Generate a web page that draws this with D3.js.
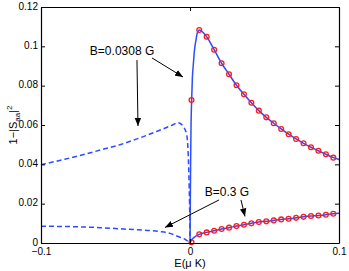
<!DOCTYPE html>
<html>
<head>
<meta charset="utf-8">
<script src="https://cdn.jsdelivr.net/npm/d3@7"></script>
<style>
  body { margin: 0; background: #fff; }
  svg { display: block; font-family: "Liberation Sans", Arial, sans-serif; }
</style>
</head>
<body>
<div id="chart"></div>
<script>
// B=0.0308 G, E>0 (solid)
var solidAE = [0, 0.0002, 0.0004, 0.0007, 0.0011, 0.0016, 0.0022, 0.003, 0.004, 0.005, 0.0062, 0.0112, 0.0162, 0.0212, 0.0262, 0.0312, 0.0362, 0.0412, 0.0462, 0.0512, 0.0562, 0.0612, 0.0662, 0.0712, 0.0762, 0.0812, 0.0862, 0.0912, 0.0962, 0.1];
var solidAV = [0, 0.02, 0.04, 0.06, 0.0727, 0.084, 0.0905, 0.098, 0.1032, 0.107, 0.1083, 0.1049, 0.0983, 0.0914, 0.0858, 0.0802, 0.0756, 0.0713, 0.0673, 0.0639, 0.0609, 0.058, 0.0553, 0.0529, 0.0507, 0.0487, 0.0469, 0.0451, 0.0434, 0.0425];

// B=0.3 G, E>0 (solid)
var solidBE = [0, 0.001, 0.003, 0.0062, 0.0112, 0.0162, 0.0212, 0.0262, 0.0312, 0.0362, 0.0412, 0.0462, 0.0512, 0.0562, 0.0612, 0.0662, 0.0712, 0.0762, 0.0812, 0.0862, 0.0912, 0.0962, 0.1];
var solidBV = [0, 0.0015, 0.003, 0.0044, 0.0054, 0.0062, 0.0071, 0.0078, 0.0086, 0.0093, 0.01, 0.0107, 0.011, 0.0115, 0.012, 0.0123, 0.0128, 0.0133, 0.0137, 0.014, 0.0144, 0.0149, 0.0151];

// E<0 (dashed)
var dashAE = [-0.1, -0.084, -0.06, -0.047, -0.036, -0.0224, -0.012, -0.0079, -0.0045, -0.0022, -0.0012, -0.0006, -0.0002, 0];
var dashAV = [0.0398, 0.0426, 0.0473, 0.05, 0.0528, 0.0567, 0.0599, 0.0612, 0.0592, 0.055, 0.045, 0.03, 0.015, 0];
var dashBE = [-0.1, -0.085, -0.06, -0.042, -0.02, -0.0134, -0.0067, -0.0034, 0];
var dashBV = [0.0085, 0.0084, 0.0078, 0.007, 0.0058, 0.0049, 0.0029, 0.0019, 0];

// circles (second calculation)
var circE = [0.001, 0.0062, 0.0112, 0.0162, 0.0212, 0.0262, 0.0312, 0.0362, 0.0412, 0.0462, 0.0512, 0.0562, 0.0612, 0.0662, 0.0712, 0.0762, 0.0812, 0.0862, 0.0912, 0.0962];
var circAV = [0.0727, 0.1083, 0.1049, 0.0983, 0.0914, 0.0858, 0.0802, 0.0756, 0.0713, 0.0673, 0.0639, 0.0609, 0.058, 0.0553, 0.0529, 0.0507, 0.0487, 0.0469, 0.0451, 0.0434];
var circBV = [0.0004, 0.0044, 0.0054, 0.0062, 0.0071, 0.0078, 0.0086, 0.0093, 0.01, 0.0107, 0.011, 0.0115, 0.012, 0.0123, 0.0128, 0.0133, 0.0137, 0.014, 0.0144, 0.0149];

var xTicks = [-0.1, 0, 0.1];
var yTicks = [0, 0.02, 0.04, 0.06, 0.08, 0.1, 0.12];

// annotations in data coords
var labels = [
  {text: "B=0.0308 G", e: -0.0456, v: 0.0956},
  {text: "B=0.3 G", e: 0.0248, v: 0.0239}
];
var arrows = [
  {e0: -0.0356, v0: 0.093, e1: -0.0349, v1: 0.0595},
  {e0: -0.0255, v0: 0.0941, e1: -0.0047, v1: 0.0844},
  {e0: 0.0195, v0: 0.0219, e1: -0.0168, v1: 0.0079},
  {e0: 0.0342, v0: 0.0219, e1: 0.0369, v1: 0.0135}
];

var width = 349, height = 271;
var margin = {top: 7, right: 10, bottom: 28, left: 41};
var blue = "#2b4cff";

var svg = d3.select("#chart").append("svg")
    .attr("width", width)
    .attr("height", height);

var x = d3.scaleLinear().domain([-0.1, 0.1]).range([margin.left, width - margin.right]);
var y = d3.scaleLinear().domain([0, 0.12]).range([height - margin.bottom, margin.top]);

svg.append("defs").append("marker")
    .attr("id", "head")
    .attr("viewBox", "0 0 10 10")
    .attr("refX", 10).attr("refY", 5)
    .attr("markerWidth", 8).attr("markerHeight", 8)
    .attr("markerUnits", "userSpaceOnUse")
    .attr("orient", "auto")
  .append("path")
    .attr("d", "M0,1 L10,5 L0,9 z")
    .attr("fill", "#000");

function zip(a, b) { return a.map(function(d, i) { return [d, b[i]]; }); }

var line = d3.line()
    .x(function(d) { return x(d[0]); })
    .y(function(d) { return y(d[1]); })
    .curve(d3.curveMonotoneX);

var plot = svg.append("g");

[zip(dashAE, dashAV), zip(dashBE, dashBV)].forEach(function(pts) {
  plot.append("path")
      .attr("d", line(pts))
      .attr("fill", "none")
      .attr("stroke", blue)
      .attr("stroke-width", 1.5)
      .attr("stroke-dasharray", "5,3");
});

[zip(solidAE, solidAV), zip(solidBE, solidBV)].forEach(function(pts) {
  plot.append("path")
      .attr("d", line(pts))
      .attr("fill", "none")
      .attr("stroke", blue)
      .attr("stroke-width", 1.5);
});

[circAV, circBV].forEach(function(vals) {
  plot.selectAll(null)
      .data(zip(circE, vals))
      .enter()
      .append("circle")
      .attr("cx", function(d) { return x(d[0]); })
      .attr("cy", function(d) { return y(d[1]); })
      .attr("r", 2.4)
      .attr("fill", "none")
      .attr("stroke", "#ff1a1a")
      .attr("stroke-width", 1.3);
});

// axes box
var fmt = function(d) { return d === 0 ? "0" : d3.format("~g")(d); };
var x0 = margin.left, x1 = width - margin.right, y0 = height - margin.bottom, y1 = margin.top;

svg.append("g")
    .attr("class", "xaxis")
    .attr("transform", "translate(0," + y0 + ")")
    .call(d3.axisBottom(x).tickValues(xTicks).tickSizeInner(-4).tickSizeOuter(0).tickPadding(5).tickFormat(fmt));
svg.append("g")
    .attr("transform", "translate(0," + y1 + ")")
    .call(d3.axisTop(x).tickValues(xTicks).tickSizeInner(-4).tickSizeOuter(0).tickFormat(""));
svg.append("g")
    .attr("class", "yaxis")
    .attr("transform", "translate(" + x0 + ",0)")
    .call(d3.axisLeft(y).tickValues(yTicks).tickSizeInner(-4).tickSizeOuter(0).tickPadding(3).tickFormat(fmt));
svg.append("g")
    .attr("transform", "translate(" + x1 + ",0)")
    .call(d3.axisRight(y).tickValues(yTicks).tickSizeInner(-4).tickSizeOuter(0).tickFormat(""));

svg.selectAll(".domain").attr("stroke", "#000").attr("stroke-width", 1.2);
svg.selectAll(".tick line").attr("stroke", "#000");
svg.selectAll(".tick text")
    .attr("fill", "#000")
    .style("font-size", "10px")
    .style("font-family", "'Liberation Sans', Arial, sans-serif");
svg.selectAll(".yaxis .tick text").attr("dy", "0.2em");

// annotations
svg.selectAll(".arrow")
    .data(arrows)
    .enter()
    .append("line")
    .attr("class", "arrow")
    .attr("x1", function(d) { return x(d.e0); })
    .attr("y1", function(d) { return y(d.v0); })
    .attr("x2", function(d) { return x(d.e1); })
    .attr("y2", function(d) { return y(d.v1); })
    .attr("stroke", "#000")
    .attr("stroke-width", 1)
    .attr("marker-end", "url(#head)");

svg.selectAll(".ann")
    .data(labels)
    .enter()
    .append("text")
    .attr("class", "ann")
    .attr("x", function(d) { return x(d.e); })
    .attr("y", function(d) { return y(d.v); })
    .attr("text-anchor", "middle")
    .style("font-size", "12px")
    .text(function(d) { return d.text; });

// axis labels
svg.append("text")
    .attr("x", x(0))
    .attr("y", 267)
    .attr("text-anchor", "middle")
    .style("font-size", "11px")
    .text("E(\u03bc K)");

var yl = svg.append("text")
    .attr("transform", "translate(17," + ((y0 + y1) / 2) + ") rotate(-90)")
    .attr("text-anchor", "middle")
    .style("font-size", "11px");
yl.append("tspan").text("1\u2212|S");
yl.append("tspan").attr("dy", 3).style("font-size", "8px").text("aa");
yl.append("tspan").attr("dy", -3).text("|");
yl.append("tspan").attr("dy", -5).style("font-size", "8px").text("2");
</script>
</body>
</html>
